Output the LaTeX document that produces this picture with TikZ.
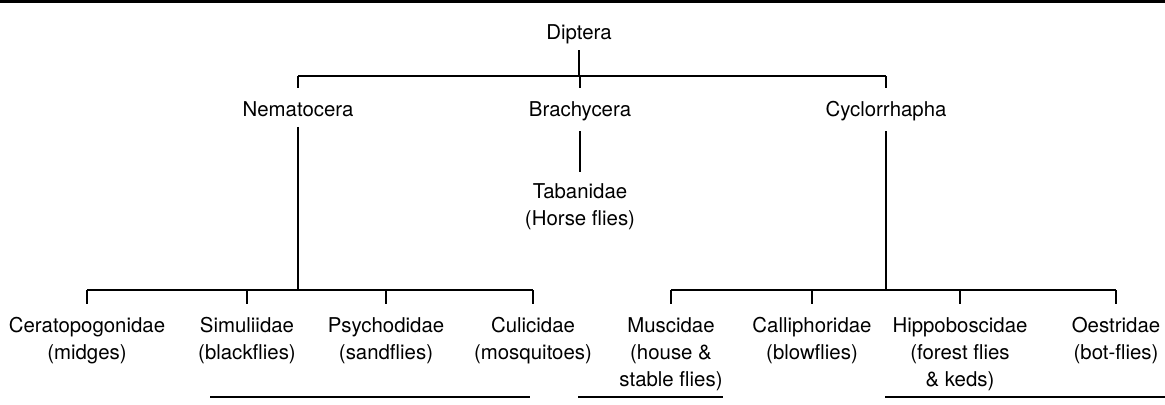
\documentclass[tikz,border=0pt]{standalone}
\usepackage{fontspec}
\setmainfont{TeX Gyre Heros}
\tikzset{
  taxon/.style={font=\fontsize{10.2}{13.5}\selectfont, align=center, inner sep=0pt, anchor=north},
  branch/.style={line width=0.65pt},
  pagerule/.style={line width=0.6pt}
}
\begin{document}
\begin{tikzpicture}[x=0.5pt, y=-0.5pt]
\useasboundingbox (0,0) rectangle (1165,404);
\def\topbar{76}
\def\lowbar{290}
% rules of the page
\draw[line width=1.5pt] (0,1.5) -- (1165,1.5);
\draw[pagerule] (210,397) -- (530,397);
\draw[pagerule] (578,397) -- (723,397);
\draw[pagerule] (885,397) -- (1165,397);
% order and suborders
\node[taxon] (dip) at (579,24) {Diptera};
\node[taxon] (nem) at (298,101) {Nematocera};
\node[taxon] (bra) at (580,101) {Brachycera};
\node[taxon] (cyc) at (886,101) {Cyclorrhapha};
\node[taxon] (tab) at (580,183) {Tabanidae\\(Horse flies)};
% families
\foreach \nm/\xx/\txt in {cer/87/{Ceratopogonidae\\(midges)}, sim/247/{Simuliidae\\(blackflies)},
    psy/386/{Psychodidae\\(sandflies)}, cul/533/{Culicidae\\(mosquitoes)},
    mus/671/{Muscidae\\(house \&\\stable flies)}, cal/812/{Calliphoridae\\(blowflies)},
    hip/960/{Hippoboscidae\\(forest flies\\\& keds)}, oes/1116/{Oestridae\\(bot-flies)}}
  \node[taxon] (\nm) at (\xx,317) {\txt};
\coordinate (dbar) at (579,\topbar);
\coordinate (nbar) at (298,\lowbar);
\coordinate (cbar) at (886,\lowbar);
% tree
\draw[branch, shorten <=3pt] (dip.south) -- (dbar);
\draw[branch] (dbar -| nem) -- (dbar -| cyc);
\foreach \c in {nem,bra,cyc}
  \draw[branch, shorten >=6.5pt] (dbar -| \c) -- (\c.north);
\draw[branch, shorten <=5pt, shorten >=5.5pt] (bra.south) -- (tab.north);
\draw[branch, shorten <=5pt] (nem.south) -- (nbar);
\draw[branch, shorten <=5pt] (cyc.south) -- (cbar);
\draw[branch] (nbar -| cer) -- (nbar -| cul);
\draw[branch] (cbar -| mus) -- (cbar -| oes);
\foreach \f in {cer,sim,psy,cul}
  \draw[branch, shorten >=6.5pt] (nbar -| \f) -- (\f.north);
\foreach \f in {mus,cal,hip,oes}
  \draw[branch, shorten >=6.5pt] (cbar -| \f) -- (\f.north);
\end{tikzpicture}
\end{document}
